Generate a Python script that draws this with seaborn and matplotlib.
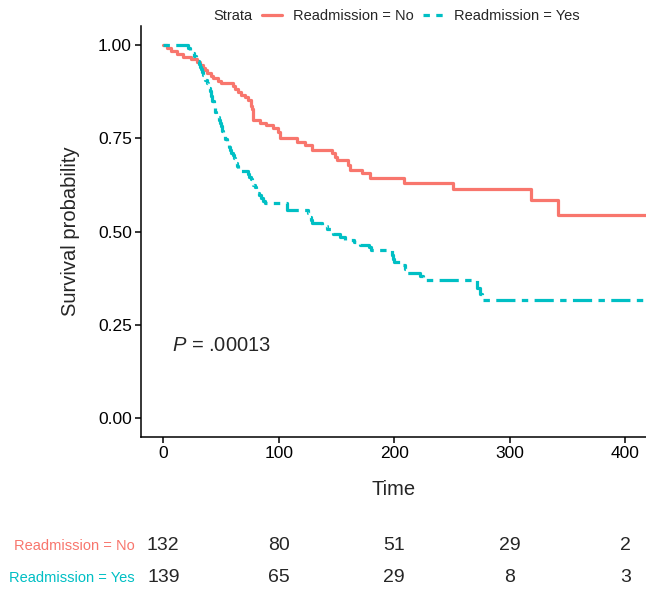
import pandas as pd
import seaborn as sns
import matplotlib.pyplot as plt
from matplotlib.lines import Line2D

# Kaplan-Meier step points
no_time = [0, 3, 7, 12, 17, 24, 29, 32, 34, 36.5, 38, 41, 43, 47, 50, 60, 62, 65, 67, 71,
           73, 75.5, 76, 77, 77.5, 78, 84, 89, 95, 99, 101, 115.5, 122.7, 128.5, 146, 149,
           150, 160, 161.6, 172, 179, 208, 251, 318, 341.5, 420]
no_surv = [1.0, 0.991, 0.984, 0.976, 0.968, 0.962, 0.955, 0.947, 0.939, 0.932, 0.924, 0.917,
           0.911, 0.905, 0.898, 0.890, 0.883, 0.875, 0.867, 0.860, 0.852, 0.845, 0.837, 0.829,
           0.82, 0.80, 0.792, 0.785, 0.777, 0.768, 0.752, 0.741, 0.732, 0.72, 0.71, 0.70,
           0.692, 0.678, 0.665, 0.656, 0.643, 0.631, 0.614, 0.585, 0.545, 0.545]

yes_time = [0, 21, 23, 25, 27, 28.5, 29.5, 30.5, 31.5, 32.5, 33.5, 34.5, 35.5, 36.5, 37.5,
            38.5, 39.5, 40.5, 41, 41.5, 42, 42.5, 43.5, 44, 44.5, 45, 46, 47, 48, 49, 50,
            50.5, 51, 51.5, 52, 53, 55, 56, 57, 58, 59, 60, 61, 62, 63, 64, 64.5, 65, 73, 74,
            75.5, 77, 78, 79, 80, 81.5, 83, 85, 86.5, 88, 107, 107.5, 125, 126, 127.5, 129,
            137, 142, 145, 147, 153, 157, 165, 170, 178, 180, 198, 199, 200, 207, 209, 211,
            222, 225, 272, 274, 276, 420]
yes_surv = [1.0, 0.993, 0.986, 0.978, 0.971, 0.964, 0.957, 0.95, 0.942, 0.935, 0.928, 0.921,
            0.914, 0.906, 0.899, 0.892, 0.885, 0.878, 0.871, 0.863, 0.856, 0.849, 0.842,
            0.835, 0.827, 0.820, 0.813, 0.806, 0.798, 0.791, 0.784, 0.777, 0.770, 0.763,
            0.755, 0.748, 0.741, 0.734, 0.727, 0.72, 0.712, 0.705, 0.698, 0.691, 0.684,
            0.676, 0.669, 0.662, 0.655, 0.647, 0.640, 0.633, 0.626, 0.619, 0.611, 0.604,
            0.597, 0.590, 0.583, 0.576, 0.567, 0.558, 0.549, 0.540, 0.531, 0.522, 0.515,
            0.508, 0.500, 0.493, 0.486, 0.479, 0.472, 0.465, 0.458, 0.451, 0.438, 0.428,
            0.419, 0.41, 0.40, 0.389, 0.38, 0.37, 0.35, 0.334, 0.317, 0.317]

strata = ['Readmission = No', 'Readmission = Yes']
colors = ['#F8766D', '#00BFC4']

risk_times = [0, 100, 200, 300, 400]
risk_no = [132, 80, 51, 29, 2]
risk_yes = [139, 65, 29, 8, 3]

df = pd.concat([
    pd.DataFrame({'time': no_time, 'surv': no_surv, 'strata': strata[0]}),
    pd.DataFrame({'time': yes_time, 'surv': yes_surv, 'strata': strata[1]}),
])

sns.set_style('white')
plt.rcParams['font.family'] = ['Liberation Sans', 'DejaVu Sans']
plt.rcParams['mathtext.fontset'] = 'custom'
plt.rcParams['mathtext.it'] = 'Liberation Sans:italic'
plt.rcParams['mathtext.rm'] = 'Liberation Sans'

W, H = 646, 590
fig = plt.figure(figsize=(W / 100, H / 100), dpi=100)
ax = fig.add_axes([141 / W, 1 - 437 / H, 505 / W, 411 / H])

lw = 2.3
sns.lineplot(data=df, x='time', y='surv', hue='strata', style='strata',
             palette=dict(zip(strata, colors)),
             dashes={strata[0]: '', strata[1]: (2, 2, 6, 2)},
             estimator=None, drawstyle='steps-post', linewidth=lw,
             legend=False, ax=ax)

ax.set_xlim(-19.3, 417.9)
ax.set_ylim(-0.05, 1.051)
ax.set_xticks([0, 100, 200, 300, 400])
ax.set_yticks([0, 0.25, 0.5, 0.75, 1.0])
ax.set_yticklabels(['0.00', '0.25', '0.50', '0.75', '1.00'])
for s in ['top', 'right']:
    ax.spines[s].set_visible(False)
for s in ['left', 'bottom']:
    ax.spines[s].set_color('black')
    ax.spines[s].set_linewidth(1.1)
ax.tick_params(direction='out', length=4, width=1.1, color='black',
               labelsize=12.5, labelcolor='black', pad=2.5,
               bottom=True, left=True)
ax.set_xlabel('Time', fontsize=14.5, labelpad=14)
ax.set_ylabel('Survival probability', fontsize=14.5, labelpad=13)

ax.text(7.5, 0.194, r'$P$ = .00013', fontsize=14.5, va='center', ha='left')

# risk table
tab = fig.add_axes([141 / W, 0, 505 / W, 60 / H])
tab.set_xlim(ax.get_xlim())
tab.set_ylim(0, 60)
tab.axis('off')
for row_y, counts, lab, c in [(44, risk_no, strata[0], colors[0]),
                              (12, risk_yes, strata[1], colors[1])]:
    tab.text(-25, row_y, lab, color=c, fontsize=10.5, ha='right', va='center')
    for t, n in zip(risk_times, counts):
        tab.text(t, row_y, str(n), fontsize=14, ha='center', va='center')

# legend on top
fig.text(213 / W, 1 - 16 / H, 'Strata', fontsize=10.5, va='center', ha='left')
handles = [Line2D([], [], color=colors[0], lw=lw),
           Line2D([], [], color=colors[1], lw=lw, dashes=(2, 2))]
fig.legend(handles, strata, loc='center left', bbox_to_anchor=(262 / W, 1 - 16 / H),
           ncol=2, frameon=False, fontsize=10.5, handlelength=1.4,
           handletextpad=0.75, columnspacing=0.6, borderpad=0, borderaxespad=0)

fig.savefig('out.png', dpi=100)
